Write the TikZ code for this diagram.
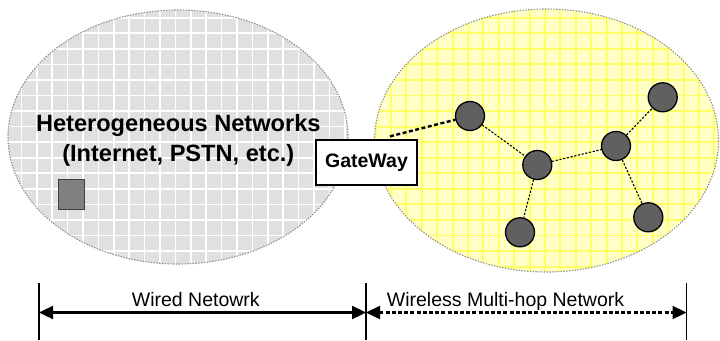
\documentclass[tikz,border=0pt]{standalone}
\usepackage{fontspec}
\setmainfont{Liberation Sans}
\usetikzlibrary{arrows.meta}

\definecolor{cloudgray}{HTML}{E0E0E0}
\definecolor{cloudyellow}{HTML}{FFFFC6}
\definecolor{gridyellow}{HTML}{FFFF66}
\definecolor{rimgray}{HTML}{8C8C8C}
\definecolor{hostgray}{HTML}{606060}
\definecolor{boxgray}{HTML}{808080}

\tikzset{
  rim/.style={draw=rimgray, line width=1.1pt, dash pattern=on 1.4pt off 1.4pt},
  meshnode/.style={circle, draw=black, line width=1.3pt, fill=hostgray,
                   minimum size=29pt, inner sep=0pt},
  hop/.style={draw=black, line width=1.1pt, dash pattern=on 2.2pt off 1.6pt},
  uplink/.style={draw=black, line width=2.4pt, dash pattern=on 4pt off 2.5pt},
  gwbox/.style={draw=black, line width=1.3pt, fill=white, minimum width=101pt,
                minimum height=45pt, inner sep=0pt, font=\fontsize{19.5}{22}\selectfont\bfseries},
  bigtitle/.style={font=\fontsize{23.6}{26}\selectfont\bfseries, inner sep=0pt, anchor=base},
  spanlabel/.style={font=\fontsize{19.5}{22}\selectfont, inner sep=0pt, anchor=base west},
  span/.style={line width=2.3pt, {Triangle[length=14pt,width=13pt]}-{Triangle[length=14pt,width=13pt]}},
  tick/.style={line width=1.6pt},
}

\begin{document}
\begin{tikzpicture}[x=1pt,y=-1pt]
  \useasboundingbox (0,0) rectangle (720,340);

  % wired cloud: gray with white mesh
  \begin{scope}
    \clip (178,137) ellipse [x radius=170, y radius=127];
    \fill[cloudgray] (0,0) rectangle (360,340);
    \foreach \i in {0,...,23}
      \draw[white, line width=1.7pt] ({6+15.4*\i},0) -- ({6+15.4*\i},340);
    \foreach \j in {0,...,21}
      \draw[white, line width=1.7pt] (0,{2.2+15.55*\j}) -- (360,{2.2+15.55*\j});
  \end{scope}
  \draw[rim] (178,137) ellipse [x radius=170, y radius=127];

  % wireless cloud: pale yellow with yellow mesh
  \begin{scope}
    \clip (546.5,140.5) ellipse [x radius=172, y radius=131.5];
    \fill[cloudyellow] (360,0) rectangle (720,340);
    \foreach \i in {23,...,47}
      \draw[gridyellow, line width=1.9pt] ({6+15.4*\i},0) -- ({6+15.4*\i},340);
    \foreach \j in {0,...,21}
      \draw[gridyellow, line width=1.9pt] (360,{2.2+15.55*\j}) -- (720,{2.2+15.55*\j});
  \end{scope}
  \draw[rim] (546.5,140.5) ellipse [x radius=172, y radius=131.5];

  % wired side labels and host
  \node[bigtitle] (hetero) at (178.3,131.7) {Heterogeneous Networks};
  \node[bigtitle] (examples) at (178.3,161.7) {(Internet, PSTN, etc.)};
  \node[draw=black!75, line width=1pt, fill=boxgray, minimum width=26pt,
        minimum height=30pt, inner sep=0pt] (host) at (71,194) {};

  % gateway
  \node[gwbox] (gw) at (366.5,162.5) {GateWay};

  % mesh nodes
  \node[meshnode] (n1) at (470,116) {};
  \node[meshnode] (n2) at (537.3,165) {};
  \node[meshnode] (n3) at (616,146) {};
  \node[meshnode] (n4) at (662.7,97.3) {};
  \node[meshnode] (n5) at (648.3,217.3) {};
  \node[meshnode] (n6) at (520,232.3) {};

  % links
  \coordinate (gwport) at ([shift={(23.5,-3)}]gw.north);
  \draw[uplink] (gwport) -- (n1);
  \draw[hop] (n1) -- (n2);
  \draw[hop] (n2) -- (n3);
  \draw[hop] (n3) -- (n4);
  \draw[hop] (n3) -- (n5);
  \draw[hop] (n2) -- (n6);

  % extent markers
  \coordinate (lt) at (39,283);   \coordinate (lb) at (39,340);
  \coordinate (mt) at (366,283);  \coordinate (mb) at (366,340);
  \coordinate (rt) at (686.5,283); \coordinate (rb) at (686.5,340);
  \draw[tick] (lt) -- (lb);
  \draw[tick] (mt) -- (mb);
  \draw[tick] (rt) -- (rb);

  \coordinate (la) at (39,312.5);
  \coordinate (ma) at (366,312.5);
  \coordinate (ra) at (686.5,312.5);
  \draw[span] (la) -- (ma);
  \draw[span, dash pattern=on 4pt off 2.2pt] (ma) -- (ra);

  \node[spanlabel] (wired) at (131.7,306.7) {Wired Netowrk};
  \node[spanlabel] (wireless) at (386.7,306.7) {Wireless Multi-hop Network};
\end{tikzpicture}
\end{document}
